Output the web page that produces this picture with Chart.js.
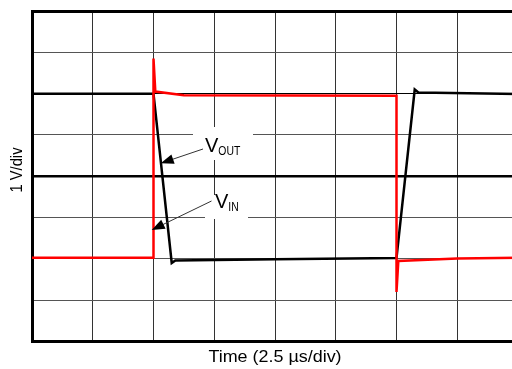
<!DOCTYPE html>
<html>
<head>
<meta charset="utf-8">
<script src="https://cdn.jsdelivr.net/npm/chart.js@4"></script>
<style>
  html, body { margin: 0; padding: 0; background: #fff; overflow: hidden; }
  #wrap { width: 530px; height: 369px; }
</style>
</head>
<body>
<div id="wrap"><canvas id="scope" width="530" height="369"></canvas></div>
<script>
// time in divisions (2.5 us/div), volts in divisions (1 V/div)
const vinTime   = [0, 2.0, 2.0, 2.03, 2.5, 6.0, 6.0, 6.03, 7.0, 8.0];
const vinVolts  = [-1.97, -1.97, 2.85, 2.05, 1.96, 1.95, -2.80, -2.05, -1.99, -1.97];
const voutTime  = [0, 2.0, 2.3, 2.36, 4.0, 6.0, 6.3, 6.36, 8.0];
const voutVolts = [2.0, 2.0, -2.1, -2.04, -2.01, -1.98, 2.1, 2.03, 1.99];

const xTitle = "Time (2.5 µs/div)";
const yTitle = "1 V/div";

const toPoints = (xs, ys) => xs.map((x, i) => ({ x: x, y: ys[i] }));

function arrow(ctx, x1, y1, x2, y2) {
  const a = Math.atan2(y2 - y1, x2 - x1);
  const c = Math.cos(a), s = Math.sin(a);
  ctx.beginPath();
  ctx.moveTo(x1, y1);
  ctx.lineTo(x2 - 10 * c, y2 - 10 * s);
  ctx.stroke();
  ctx.beginPath();
  ctx.moveTo(x2, y2);
  ctx.lineTo(x2 - 13 * c + 5 * s, y2 - 13 * s - 5 * c);
  ctx.lineTo(x2 - 13 * c - 5 * s, y2 - 13 * s + 5 * c);
  ctx.closePath();
  ctx.fill();
}

function subLabel(ctx, main, sub, x, y) {
  ctx.font = "20px 'Liberation Sans', Arial, sans-serif";
  ctx.fillText(main, x, y);
  const w = ctx.measureText(main).width;
  ctx.save();
  ctx.font = "13px 'Liberation Sans', Arial, sans-serif";
  ctx.translate(x + w, y + 3);
  ctx.scale(0.8, 1);
  ctx.fillText(sub, 0, 0);
  ctx.restore();
}

// white boxes behind the labels, then labels, arrows and axis titles
const notes = {
  id: "notes",
  beforeDatasetsDraw(chart) {
    const ctx = chart.ctx;
    ctx.save();
    ctx.fillStyle = "#fff";
    ctx.fillRect(193, 127, 60, 33);
    ctx.fillRect(205, 195, 43, 24);
    ctx.restore();
  },
  afterDatasetsDraw(chart) {
    const ctx = chart.ctx;
    ctx.save();
    ctx.fillStyle = "#000";
    ctx.strokeStyle = "#333";
    ctx.lineWidth = 1;
    ctx.textBaseline = "alphabetic";
    ctx.textAlign = "left";
    subLabel(ctx, "V", "OUT", 205, 151.7);
    subLabel(ctx, "V", "IN", 215, 208.3);
    arrow(ctx, 203, 149, 160.7, 163.3);
    arrow(ctx, 211.5, 201, 151.7, 230);

    ctx.textAlign = "center";
    ctx.save();
    ctx.font = "16px 'Liberation Sans', Arial, sans-serif";
    ctx.translate((32 + 518) / 2, 361.7);
    ctx.scale(1.12, 1);
    ctx.fillText(xTitle, 0, 0);
    ctx.restore();

    ctx.font = "16px 'Liberation Sans', Arial, sans-serif";
    ctx.translate(22, 170);
    ctx.rotate(-Math.PI / 2);
    ctx.scale(0.92, 1);
    ctx.fillText(yTitle, 0, 0);
    ctx.restore();
  }
};

new Chart(document.getElementById("scope"), {
  type: "line",
  data: {
    datasets: [
      { label: "VIN", data: toPoints(vinTime, vinVolts), borderColor: "#ff0000", borderWidth: 2.5 },
      { label: "VOUT", data: toPoints(voutTime, voutVolts), borderColor: "#000000", borderWidth: 2.5 }
    ]
  },
  options: {
    responsive: false,
    animation: false,
    events: [],
    elements: { point: { radius: 0 }, line: { tension: 0, borderJoinStyle: "miter" } },
    layout: { padding: { top: 11, right: 12, left: 0, bottom: 0 } },
    plugins: { legend: { display: false }, tooltip: { enabled: false } },
    scales: {
      x: {
        type: "linear", min: 0, max: 8,
        ticks: { display: false, stepSize: 1 },
        grid: { color: "#333", lineWidth: 1, drawTicks: false },
        border: { display: true, width: 3, color: "#000" },
        afterFit(scale) { scale.height = 27.5; }
      },
      y: {
        type: "linear", min: -4, max: 4,
        ticks: { display: false, stepSize: 1 },
        grid: {
          drawTicks: false,
          color: (c) => (c.tick.value === 0 || c.tick.value === 4 || c.tick.value === 2) ? "#000" : "#555",
          lineWidth: (c) => c.tick.value === 4 ? 3 : (c.tick.value === 0 ? 2.5 : 1)
        },
        border: { display: true, width: 3, color: "#000" },
        afterFit(scale) { scale.width = 32; }
      }
    }
  },
  plugins: [notes]
});
</script>
</body>
</html>
